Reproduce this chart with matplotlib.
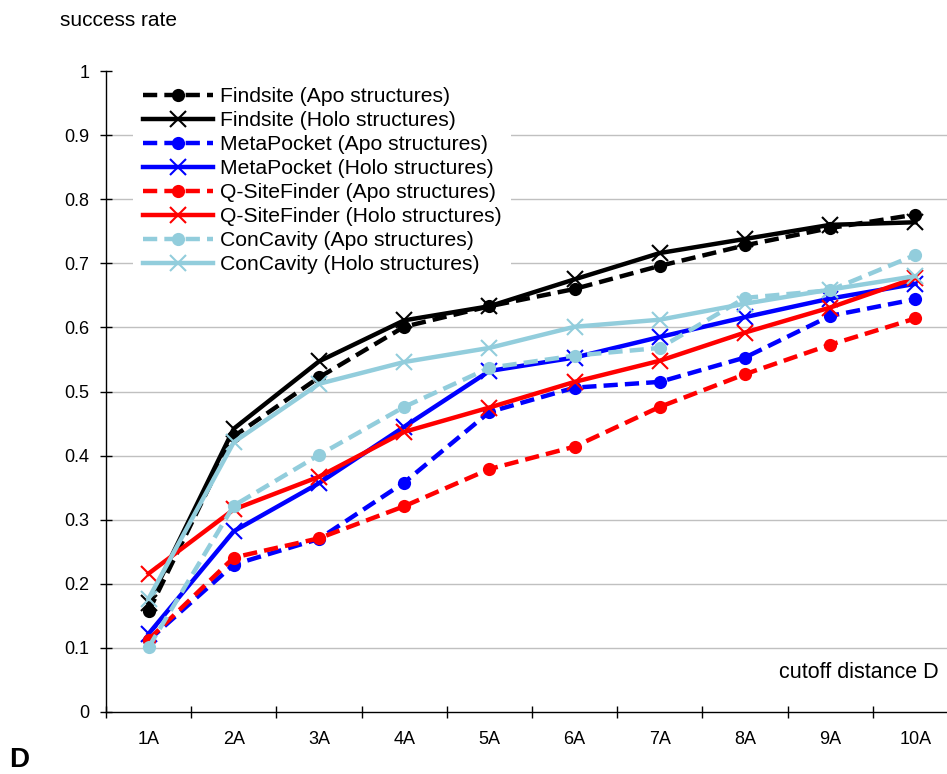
import matplotlib
matplotlib.use("Agg")
import matplotlib.pyplot as plt
from matplotlib.ticker import FixedLocator, NullFormatter

plt.rcParams['font.family'] = ['Liberation Sans', 'DejaVu Sans']

categories = ['1A', '2A', '3A', '4A', '5A', '6A', '7A', '8A', '9A', '10A']
findsite_apo = [0.157, 0.430, 0.522, 0.601, 0.633, 0.660, 0.696, 0.728, 0.755, 0.776]
findsite_holo = [0.170, 0.442, 0.547, 0.611, 0.633, 0.675, 0.716, 0.738, 0.760, 0.764]
metapocket_apo = [0.112, 0.230, 0.270, 0.358, 0.468, 0.506, 0.515, 0.553, 0.618, 0.644]
metapocket_holo = [0.122, 0.282, 0.357, 0.445, 0.532, 0.553, 0.585, 0.616, 0.645, 0.668]
qsite_apo = [0.113, 0.241, 0.271, 0.321, 0.379, 0.414, 0.476, 0.527, 0.573, 0.614]
qsite_holo = [0.216, 0.316, 0.367, 0.437, 0.475, 0.515, 0.548, 0.592, 0.631, 0.677]
concavity_apo = [0.101, 0.322, 0.401, 0.476, 0.537, 0.556, 0.568, 0.646, 0.658, 0.713]
concavity_holo = [0.177, 0.421, 0.512, 0.546, 0.568, 0.601, 0.612, 0.637, 0.659, 0.680]

series = [
    ("Findsite (Apo structures)", findsite_apo, 'black', 'apo'),
    ("Findsite (Holo structures)", findsite_holo, 'black', 'holo'),
    ("MetaPocket (Apo structures)", metapocket_apo, '#0000FF', 'apo'),
    ("MetaPocket (Holo structures)", metapocket_holo, '#0000FF', 'holo'),
    ("Q-SiteFinder (Apo structures)", qsite_apo, '#FF0000', 'apo'),
    ("Q-SiteFinder (Holo structures)", qsite_holo, '#FF0000', 'holo'),
    ("ConCavity (Apo structures)", concavity_apo, '#92CDDC', 'apo'),
    ("ConCavity (Holo structures)", concavity_holo, '#92CDDC', 'holo'),
]

W, H = 947, 774
fig = plt.figure(figsize=(W / 100, H / 100), dpi=100)
left_px, right_px, top_px, bottom_px = 106, 947, 71, 712
ax = fig.add_axes([left_px / W, 1 - bottom_px / H, (right_px - left_px) / W, (bottom_px - top_px) / H])

x = list(range(1, len(categories) + 1))
for label, vals, color, kind in series:
    if kind == 'apo':
        ax.plot(x, vals, color=color, lw=3.2, linestyle=(0, (3.2, 1.6)),
                marker='o', markersize=9.5, markeredgewidth=0, label=label,
                dash_capstyle='butt')
    else:
        ax.plot(x, vals, color=color, lw=3.2, linestyle='-',
                marker='x', markersize=11.5, markeredgewidth=1.5, label=label)

step = 85.2
ax.set_xlim(0.5, 0.5 + (right_px - left_px) / step)
ax.set_ylim(0, 1)

ax.set_yticks([i / 10 for i in range(11)])
ax.set_yticklabels(['0'] + ['%g' % (i / 10) for i in range(1, 10)] + ['1'])
ax.set_xticks(x)
ax.set_xticklabels(categories)
ax.xaxis.set_minor_locator(FixedLocator([i + 0.5 for i in range(0, 11)]))
ax.xaxis.set_minor_formatter(NullFormatter())

ax.tick_params(axis='x', which='major', length=0, pad=14, labelsize=13)
ax.tick_params(axis='x', which='minor', length=8, direction='inout', width=1, color='#000000')
ax.tick_params(axis='y', which='major', length=8, direction='inout', width=1, pad=8, labelsize=13)

ax.yaxis.grid(True, color='#C0C0C0', linewidth=1.0)
ax.set_axisbelow(True)
gl = ax.get_ygridlines()
gl[0].set_visible(False)
gl[-1].set_visible(False)

for s in ['top', 'right']:
    ax.spines[s].set_visible(False)
for s in ['left', 'bottom']:
    ax.spines[s].set_linewidth(1.0)
    ax.spines[s].set_color('black')

leg = fig.legend(loc='upper left', bbox_to_anchor=(133 / W, 1 - 78 / H), borderaxespad=0,
                 borderpad=0.45, fontsize=15.2, frameon=True, framealpha=1, facecolor='white',
                 edgecolor='none', fancybox=False, handlelength=3.35, handletextpad=0.33,
                 labelspacing=0.235, numpoints=1)

fig.text(60 / W, 1 - 21 / H, 'success rate', fontsize=15, ha='left', va='center')
fig.text(939 / W, 1 - 672 / H, 'cutoff distance D', fontsize=15.5, ha='right', va='center')
fig.text(9 / W, 1 - 760 / H, 'D', fontsize=20, fontweight='bold', ha='left', va='center')

fig.savefig('out.png', dpi=100)
